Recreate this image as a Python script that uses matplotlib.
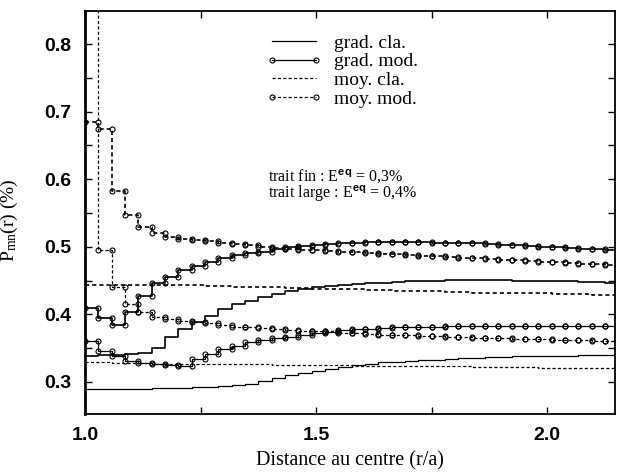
import numpy as np
import matplotlib
matplotlib.use('Agg')
from matplotlib import pyplot as plt
from matplotlib.ticker import MultipleLocator, FormatStrFormatter

plt.rcParams['font.family'] = ['Liberation Serif', 'DejaVu Serif']
plt.rcParams['mathtext.fontset'] = 'custom'
plt.rcParams['mathtext.rm'] = 'Liberation Serif'
plt.rcParams['mathtext.it'] = 'Liberation Serif:italic'
plt.rcParams['mathtext.bf'] = 'Liberation Sans:bold'

# radial grid: start and step of the staircase (r/a)
r_start = 1.0
r_step = 0.02886

# trait fin : E^eq = 0,3 %
grad_cla_03 = [0.289, 0.289, 0.290, 0.290, 0.290, 0.291, 0.291, 0.291, 0.292, 0.293,
               0.294, 0.296, 0.297, 0.301, 0.306, 0.310, 0.313, 0.316, 0.319, 0.322,
               0.325, 0.327, 0.329, 0.330, 0.331, 0.332, 0.333, 0.334, 0.335, 0.336,
               0.337, 0.337, 0.338, 0.338, 0.339, 0.339, 0.339, 0.340, 0.340, 0.340]
grad_mod_03 = [0.360, 0.346, 0.338, 0.331, 0.328, 0.326, 0.325, 0.324, 0.334, 0.342,
               0.348, 0.353, 0.359, 0.362, 0.365, 0.367, 0.370, 0.373, 0.374, 0.377,
               0.378, 0.379, 0.380, 0.381, 0.381, 0.382, 0.382, 0.383, 0.383, 0.383,
               0.383, 0.383, 0.383, 0.383, 0.383, 0.383, 0.383, 0.383, 0.383, 0.383]
moy_cla_03 = [0.329, 0.329, 0.328, 0.328, 0.328, 0.327, 0.327, 0.327, 0.327, 0.326,
              0.326, 0.326, 0.326, 0.326, 0.325, 0.325, 0.325, 0.325, 0.325, 0.325,
              0.324, 0.324, 0.324, 0.324, 0.323, 0.323, 0.323, 0.323, 0.323, 0.322,
              0.322, 0.322, 0.322, 0.322, 0.321, 0.321, 0.321, 0.321, 0.321, 0.321]
moy_mod_03 = [0.950, 0.495, 0.441, 0.415, 0.403, 0.396, 0.393, 0.390, 0.388, 0.387,
              0.384, 0.382, 0.381, 0.3795, 0.378, 0.377, 0.376, 0.375, 0.375, 0.373,
              0.372, 0.371, 0.370, 0.3695, 0.369, 0.368, 0.3675, 0.367, 0.366, 0.3655,
              0.365, 0.3645, 0.364, 0.3635, 0.363, 0.3625, 0.362, 0.3615, 0.361, 0.3605]

# trait large : E^eq = 0,4 %
grad_cla_04 = [0.339, 0.340, 0.340, 0.341, 0.343, 0.350, 0.366, 0.378, 0.388, 0.398,
               0.408, 0.415, 0.420, 0.425, 0.430, 0.434, 0.437, 0.440, 0.442, 0.444,
               0.445, 0.446, 0.447, 0.448, 0.449, 0.450, 0.450, 0.451, 0.451, 0.451,
               0.451, 0.451, 0.450, 0.450, 0.450, 0.449, 0.449, 0.448, 0.448, 0.447]
grad_mod_04 = [0.410, 0.394, 0.384, 0.403, 0.427, 0.446, 0.456, 0.465, 0.471, 0.477,
               0.483, 0.488, 0.491, 0.493, 0.497, 0.499, 0.501, 0.503, 0.504, 0.505,
               0.506, 0.507, 0.507, 0.507, 0.507, 0.507, 0.506, 0.506, 0.505, 0.505,
               0.504, 0.503, 0.502, 0.501, 0.500, 0.499, 0.498, 0.497, 0.497, 0.496]
moy_cla_04 = [0.444, 0.444, 0.444, 0.444, 0.444, 0.444, 0.443, 0.443, 0.443, 0.442,
              0.442, 0.441, 0.441, 0.440, 0.440, 0.439, 0.439, 0.438, 0.438, 0.437,
              0.437, 0.436, 0.436, 0.435, 0.435, 0.434, 0.434, 0.433, 0.433, 0.432,
              0.432, 0.432, 0.431, 0.431, 0.431, 0.430, 0.430, 0.430, 0.429, 0.429]
moy_mod_04 = [0.684, 0.675, 0.583, 0.547, 0.529, 0.521, 0.514, 0.511, 0.510, 0.508,
              0.506, 0.504, 0.502, 0.500, 0.498, 0.497, 0.495, 0.495, 0.494, 0.493,
              0.492, 0.491, 0.490, 0.489, 0.488, 0.487, 0.486, 0.485, 0.484, 0.483,
              0.482, 0.481, 0.480, 0.479, 0.478, 0.477, 0.476, 0.475, 0.474, 0.473]

labels = ['grad. cla.', 'grad. mod.', 'moy. cla.', 'moy. mod.']


# staircase: each value holds from r_k to r_k+1, vertices at both ends
def stairs(values):
    values = np.asarray(values)
    edges = r_start + r_step * np.arange(len(values) + 1)
    return np.repeat(edges, 2)[1:-1], np.repeat(values, 2)


dash = (0, (2.5, 1.8))
styles = [
    dict(color='black', ls='-'),
    dict(color='black', ls='-', marker='o', ms=3.6, mfc='none', mew=0.8),
    dict(color='black', ls=dash),
    dict(color='black', ls=dash, marker='o', ms=3.6, mfc='none', mew=0.8),
]

fig = plt.figure(figsize=(6.17, 4.73), dpi=100)
ax = fig.add_axes([0.1378, 0.1247, 0.8590, 0.8520])

for group, lw, show in [([grad_cla_03, grad_mod_03, moy_cla_03, moy_mod_03], 0.9, True),
                        ([grad_cla_04, grad_mod_04, moy_cla_04, moy_mod_04], 1.2, False)]:
    for vals, st, lab in zip(group, styles, labels):
        x, y = stairs(vals)
        ax.plot(x, y, lw=lw, label=lab if show else '_nolegend_', **st)

ax.set_xlim(1.0, 2.147)
ax.set_ylim(0.2525, 0.849)
ax.xaxis.set_major_locator(MultipleLocator(0.5))
ax.xaxis.set_minor_locator(MultipleLocator(0.25))
ax.yaxis.set_major_locator(MultipleLocator(0.1))
ax.yaxis.set_minor_locator(MultipleLocator(0.05))
ax.xaxis.set_major_formatter(FormatStrFormatter('%.1f'))
ax.yaxis.set_major_formatter(FormatStrFormatter('%.1f'))
ax.tick_params(which='both', direction='in', top=True, right=True, length=5, width=1)
ax.tick_params(axis='y', pad=10)
ax.tick_params(axis='x', pad=9)
for lab in ax.get_xticklabels() + ax.get_yticklabels():
    lab.set_family('Liberation Sans')
    lab.set_weight('bold')
    lab.set_size(14)
for sp in ax.spines.values():
    sp.set_linewidth(1.3)
ax.spines['left'].set_linewidth(2.0)

ax.set_xlabel('Distance au centre (r/a)', fontsize=14.5)
ax.set_ylabel(r'P$_{\mathrm{mn}}$(r) (%)', fontsize=14)
ax.xaxis.set_label_coords(0.5, -0.093)
ax.yaxis.set_label_coords(-0.123, 0.48)

leg = ax.legend(loc='upper left', bbox_to_anchor=(0.341, 0.943), frameon=False,
                fontsize=14, numpoints=2, handlelength=2.9, handletextpad=0.6,
                labelspacing=0.06, borderpad=0, borderaxespad=0)

ax.text(1.396, 0.605, r'trait fin : E$^{\mathbf{eq}}$ = 0,3%', fontsize=11.5, va='center')
ax.text(1.396, 0.579, r'trait large : E$^{\mathbf{eq}}$ = 0,4%', fontsize=11.5, va='center')

fig.savefig('out.png', dpi=100)
